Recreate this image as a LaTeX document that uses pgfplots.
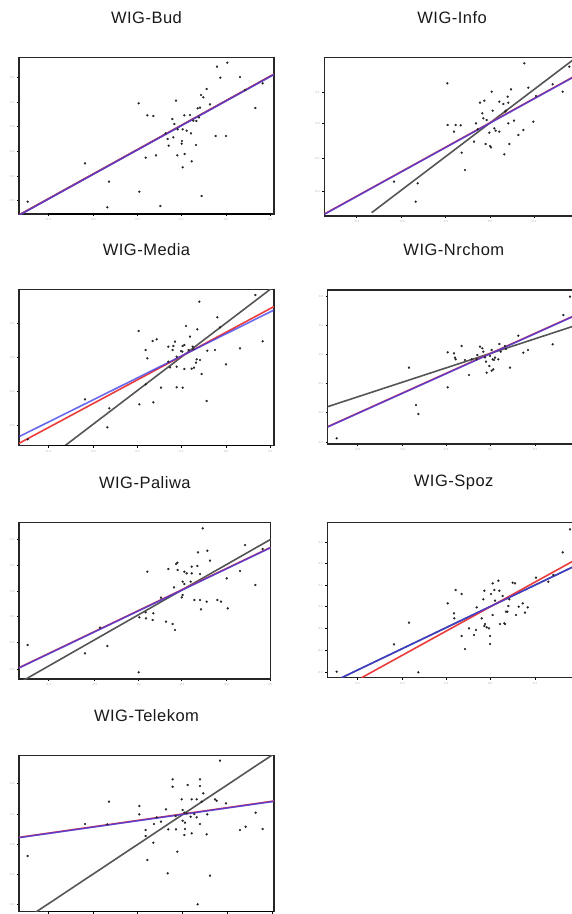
\documentclass[border=0pt]{standalone}
\usepackage{fontspec}
\setmainfont{Liberation Sans}
\newfontfamily\titlefont[LetterSpace=3]{Liberation Sans}
\usepackage{pgfplots}
\pgfplotsset{compat=1.18}
\definecolor{rl}{RGB}{235,60,60}
\definecolor{bl}{RGB}{55,55,235}
\definecolor{gl}{RGB}{85,85,85}
\pgfplotsset{
  panel/.style={scale only axis, anchor=south west,
    axis line style={line width=1.2pt, black!85},
    tick align=outside, xtick pos=bottom, ytick pos=left,
    major tick length=2pt, tick style={black, line width=0.6pt},
    ticklabel style={font=\fontsize{3}{3}\selectfont, text=black!30},
    xticklabel style={yshift=1pt}, yticklabel style={xshift=1pt},
    title style={at={(0.5,1)}, anchor=center, yshift=34pt, font=\titlefont\fontsize{16.5}{16.5}\selectfont, text=black!90},
    clip=true},
  pts/.style={only marks, mark=*, mark size=0.95pt, black!85},
  gline/.style={gl, line width=1.6pt},
  rline/.style={rl, line width=1.6pt},
  bline/.style={bl, line width=1.6pt, opacity=0.75},
  xaxln/.style={black, line width=2pt},
}
\begin{document}
\begin{tikzpicture}
\path[use as bounding box, clip] (0pt,0pt) rectangle (572pt,-914pt);
% ---------------- WIG-Bud
\begin{axis}[panel, at={(19pt,-214pt)}, width=255pt, height=156.67pt,
  xmin=57, xmax=822, ymin=-522, ymax=-52, title={WIG-Bud},
  xtick={145,280,412,543,678,812}, xticklabels={-0.4,-0.3,-0.2,-0.1,0.0,0.1},
  ytick={-482,-408,-334,-260,-187,-113}, yticklabels={-0.3,-0.2,-0.1,0.0,0.1,0.2}]
\addplot[pts] coordinates {(83,-485) (255,-370) (327,-425) (322,-502) (416,-190) (418,-455) (437,-353) (442,-226) (460,-228) (468,-346) (481,-498) (497,-280) (503,-297) (506,-317) (517,-237) (520,-292) (523,-252) (528,-182) (532,-346) (533,-268) (545,-311) (546,-303) (548,-268) (548,-382) (553,-226) (554,-342) (560,-272) (570,-225) (573,-280) (575,-364) (580,-242) (588,-315) (589,-243) (593,-205) (597,-232) (600,-203) (603,-165) (605,-468) (610,-172) (620,-147) (630,-193) (647,-288) (651,-80) (661,-113) (678,-288) (682,-68) (720,-111) (735,-150) (766,-204) (788,-130)};
\addplot[gline] coordinates {(57,-525) (822,-102.5)};
\addplot[rline] coordinates {(57,-525) (822,-102.5)};
\addplot[bline] coordinates {(57,-526) (822,-103.5)};
\addplot[xaxln] coordinates {(145,-522) (812,-522)};
\end{axis}
% ---------------- WIG-Info
\begin{axis}[panel, at={(324.33pt,-216pt)}, width=255.67pt, height=158.67pt,
  xmin=103, xmax=870, ymin=-528, ymax=-52, title={WIG-Info},
  xtick={200,335,467,600,733}, xticklabels={-0.3,-0.2,-0.1,0.0,0.1},
  ytick={-453,-354,-249,-156}, yticklabels={-0.2,-0.1,0.0,0.1}]
\addplot[pts] coordinates {(472,-130) (703,-70) (605,-155) (663,-148) (715,-143) (788,-133) (818,-155) (838,-80) (570,-188) (583,-182) (628,-185) (640,-192) (655,-188) (653,-170) (608,-212) (577,-220) (580,-235) (590,-240) (648,-212) (672,-242) (473,-255) (497,-255) (512,-256) (492,-275) (558,-250) (563,-268) (598,-278) (613,-265) (617,-272) (628,-275) (655,-250) (700,-270) (730,-245) (552,-305) (587,-312) (600,-318) (603,-322) (658,-312) (643,-343) (685,-285) (515,-338) (525,-390) (383,-430) (312,-425) (377,-485) (738,-168) (645,-215)};
\addplot[gline] coordinates {(245,-518) (870,-43.8)};
\addplot[rline] coordinates {(103,-522) (870,-99.5)};
\addplot[bline] coordinates {(103,-523) (870,-100.5)};
\end{axis}
% ---------------- WIG-Media
\begin{axis}[panel, at={(19pt,-445.67pt)}, width=255pt, height=156.33pt,
  xmin=57, xmax=822, ymin=-527, ymax=-58, title={WIG-Media},
  xtick={145,280,412,543,678,812}, xticklabels={-0.4,-0.3,-0.2,-0.1,0.0,0.1},
  ytick={-467,-365,-262,-160}, yticklabels={-0.2,-0.1,0.0,0.1}]
\addplot[pts] coordinates {(598,-95) (652,-142) (766,-75) (416,-183) (558,-168) (592,-178) (660,-172) (458,-213) (470,-208) (525,-215) (505,-230) (520,-228) (548,-228) (553,-225) (570,-200) (578,-230) (437,-240) (518,-240) (543,-243) (547,-245) (566,-240) (580,-238) (622,-242) (645,-240) (720,-235) (788,-214) (442,-265) (530,-260) (590,-268) (600,-270) (588,-278) (505,-275) (510,-292) (530,-290) (553,-297) (575,-296) (582,-293) (605,-312) (678,-283) (437,-343) (483,-353) (530,-352) (548,-353) (460,-397) (418,-403) (620,-393) (255,-388) (328,-415) (322,-472) (83,-508)};
\addplot[gline] coordinates {(195,-527) (822,-49.4)};
\addplot[rline] coordinates {(57,-520) (822,-109.6)};
\addplot[bline] coordinates {(57,-500) (822,-120)};
\addplot[xaxln] coordinates {(145,-527) (812,-527)};
\end{axis}
% ---------------- WIG-Nrchom
\begin{axis}[panel, at={(327.67pt,-444pt)}, width=252.33pt, height=154pt,
  xmin=113, xmax=870, ymin=-522, ymax=-60, title={WIG-Nrchom},
  xtick={202,337,468,600,735}, xticklabels={-0.3,-0.2,-0.1,0.0,0.1},
  ytick={-517,-428,-340,-252,-165,-78}, yticklabels={-0.3,-0.2,-0.1,0.0,0.1,0.2}]
\addplot[pts] coordinates {(140,-505) (357,-293) (378,-405) (385,-432) (473,-352) (537,-315) (473,-247) (492,-250) (495,-263) (497,-268) (515,-228) (525,-270) (545,-268) (560,-268) (562,-255) (570,-230) (577,-235) (580,-245) (585,-262) (588,-275) (598,-288) (600,-258) (605,-240) (608,-268) (612,-270) (615,-263) (610,-298) (590,-308) (605,-302) (628,-222) (632,-245) (645,-228) (648,-237) (660,-293) (685,-197) (700,-248) (714,-240) (788,-223) (820,-135) (840,-80) (625,-268)};
\addplot[gline] coordinates {(113,-410) (870,-162.1)};
\addplot[rline] coordinates {(113,-470) (870,-129.2)};
\addplot[bline] coordinates {(113,-471) (870,-130.2)};
\end{axis}
% ---------------- WIG-Paliwa
\begin{axis}[panel, at={(19pt,-679pt)}, width=251.67pt, height=156.33pt,
  xmin=57, xmax=812, ymin=-537, ymax=-68, title={WIG-Paliwa},
  xtick={145,283,415,545,680,812}, xticklabels={-0.4,-0.3,-0.2,-0.1,0.0,0.1},
  ytick={-507,-428,-350,-273,-195,-118}, yticklabels={-0.3,-0.2,-0.1,0.0,0.1,0.2}]
\addplot[pts] coordinates {(608,-85) (735,-135) (594,-157) (622,-152) (630,-182) (788,-147) (442,-215) (505,-207) (528,-192) (532,-188) (533,-210) (553,-215) (560,-220) (575,-200) (575,-220) (592,-198) (600,-222) (548,-245) (553,-252) (572,-245) (522,-262) (680,-235) (720,-213) (766,-255) (483,-293) (545,-292) (548,-285) (583,-300) (600,-300) (620,-305) (652,-300) (663,-305) (603,-328) (683,-325) (418,-352) (437,-337) (438,-355) (460,-340) (458,-360) (498,-365) (518,-372) (525,-390) (83,-435) (255,-460) (300,-383) (322,-438) (416,-517)};
\addplot[gline] coordinates {(57,-548.8) (812,-118)};
\addplot[rline] coordinates {(57,-503) (812,-142)};
\addplot[bline] coordinates {(57,-504) (812,-143)};
\end{axis}
% ---------------- WIG-Spoz
\begin{axis}[panel, at={(327.33pt,-677.67pt)}, width=252.67pt, height=155pt,
  xmin=112, xmax=870, ymin=-533, ymax=-68, title={WIG-Spoz},
  xtick={202,337,468,600,735}, xticklabels={-0.3,-0.2,-0.1,0.0,0.1},
  ytick={-517,-450,-385,-320,-255,-190,-127}, yticklabels={-0.3,-0.2,-0.1,0.0,0.1,0.2,0.3}]
\addplot[pts] coordinates {(140,-515) (312,-433) (357,-368) (385,-517) (473,-310) (492,-340) (493,-355) (497,-270) (515,-282) (515,-408) (525,-447) (537,-385) (552,-405) (558,-390) (560,-322) (575,-355) (580,-298) (583,-272) (583,-378) (585,-372) (590,-382) (597,-385) (600,-408) (600,-432) (603,-282) (608,-250) (608,-345) (613,-270) (615,-302) (625,-242) (628,-272) (630,-372) (638,-288) (643,-370) (648,-335) (652,-335) (655,-318) (658,-298) (668,-248) (675,-250) (678,-345) (686,-320) (698,-310) (705,-338) (713,-322) (738,-233) (775,-245) (790,-225) (818,-157) (840,-88) (645,-372)};
\addplot[gline] coordinates {(155,-533) (870,-190.5)};
\addplot[rline] coordinates {(215,-533) (870,-171.8)};
\addplot[bline] coordinates {(155,-533) (870,-190.5)};
\end{axis}
% ---------------- WIG-Telekom
\begin{axis}[panel, at={(19pt,-911.67pt)}, width=255pt, height=156.33pt,
  xmin=57, xmax=822, ymin=-545, ymax=-76, title={WIG-Telekom},
  xtick={145,280,413,548,683,818}, xticklabels={},
  ytick={-523,-433,-343,-253,-160}, yticklabels={-0.2,-0.1,0.0,0.1,0.2}]
\addplot[pts] coordinates {(660,-92) (518,-148) (600,-148) (518,-170) (563,-165) (600,-168) (610,-190) (327,-215) (545,-208) (575,-208) (590,-208) (605,-215) (645,-208) (650,-212) (678,-220) (418,-228) (498,-238) (548,-240) (418,-253) (470,-262) (483,-275) (527,-258) (553,-248) (560,-250) (572,-260) (583,-252) (590,-262) (622,-253) (548,-272) (555,-278) (600,-282) (767,-248) (255,-282) (322,-283) (462,-282) (437,-300) (505,-298) (528,-298) (555,-297) (720,-300) (737,-290) (788,-297) (437,-318) (553,-315) (575,-310) (620,-313) (460,-338) (83,-378) (532,-365) (442,-390) (503,-430) (630,-437) (593,-523)};
\addplot[gline] coordinates {(105,-548) (822,-71.4)};
\addplot[rline] coordinates {(57,-322) (822,-213)};
\addplot[bline] coordinates {(57,-323) (822,-214)};
\addplot[xaxln] coordinates {(145,-545) (822,-545)};
\end{axis}
\end{tikzpicture}
\end{document}
